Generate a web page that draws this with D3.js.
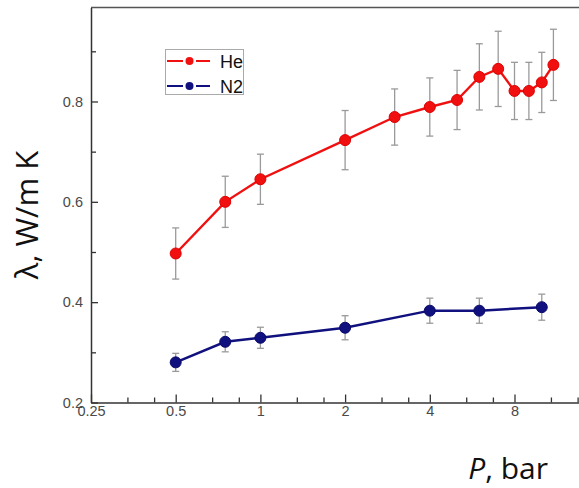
<!DOCTYPE html>
<html><head><meta charset="utf-8">
<script src="https://cdn.jsdelivr.net/npm/d3@7"></script>
<style>body{margin:0;background:#fff}svg{display:block}</style>
</head><body>
<svg id="c" width="579" height="488"></svg>
<script>
// Data
const hePressure = [0.5, 0.75, 1, 2, 3, 4, 5, 6, 7, 8, 9, 10, 11];
const heValue    = [0.497, 0.600, 0.645, 0.723, 0.769, 0.789, 0.803, 0.849, 0.865, 0.821, 0.821, 0.838, 0.873];
const heError    = [0.051, 0.051, 0.050, 0.059, 0.056, 0.058, 0.059, 0.066, 0.075, 0.057, 0.057, 0.060, 0.071];
const n2Pressure = [0.5, 0.75, 1, 2, 4, 6, 10];
const n2Value    = [0.280, 0.321, 0.329, 0.349, 0.383, 0.383, 0.390];
const n2Error    = [0.018, 0.020, 0.021, 0.024, 0.025, 0.025, 0.026];
const xTickValues = [0.25, 0.5, 1, 2, 4, 8];
const xTickLabels = ["0.25", "0.5", "1", "2", "4", "8"];
const yTickValues = [0.2, 0.4, 0.6, 0.8];
const yTickLabels = ["0.2", "0.4", "0.6", "0.8"];
const yMinorValues = [0.3, 0.5, 0.7, 0.9];
const seriesNames = ["He", "N2"];

const svg = d3.select("#c");
const mLeft = 91, mTop = 7.5, mBottom = 402.5;
const octave = 84.7;
const mRight = mLeft + octave * Math.log2(13.5 / 0.25);
const x = d3.scaleLog().base(2).domain([0.25, 13.5]).range([mLeft, mRight]);
const y = d3.scaleLinear().domain([0.2, 0.2 + (mBottom - mTop) / 501.7]).range([mBottom, mTop]);

// minor x ticks (two per octave)
const xMinor = [];
xTickValues.forEach(v => { xMinor.push(v * Math.pow(2, 0.43)); xMinor.push(v * Math.pow(2, 0.745)); });

const axisColor = "#333";
const labelFont = "Liberation Sans, Arial, sans-serif";
svg.append("line").attr("x1", mLeft).attr("x2", 579).attr("y1", mTop).attr("y2", mTop)
  .attr("stroke", "#555").attr("stroke-width", 1.5);

const xAxis = d3.axisBottom(x).tickValues(xTickValues).tickFormat((d, i) => xTickLabels[i])
  .tickSizeInner(-8).tickSizeOuter(0).tickPadding(3);
const gx = svg.append("g").attr("transform", `translate(0,${mBottom})`).call(xAxis);
gx.select(".domain").attr("stroke", axisColor).attr("stroke-width", 1.5);
gx.selectAll(".tick line").attr("stroke", axisColor).attr("stroke-width", 1.3);
gx.selectAll(".tick text").attr("font-family", labelFont)
  .attr("font-size", 14.5).attr("fill", "#4a4a4a");
const xAxisMinor = d3.axisBottom(x).tickValues(xMinor).tickFormat("").tickSizeInner(-5).tickSizeOuter(0);
const gxm = svg.append("g").attr("transform", `translate(0,${mBottom})`).call(xAxisMinor);
gxm.select(".domain").remove();
gxm.selectAll(".tick line").attr("stroke", axisColor).attr("stroke-width", 1.3);

const yAxis = d3.axisLeft(y).tickValues(yTickValues).tickFormat((d, i) => yTickLabels[i])
  .tickSizeInner(-7).tickSizeOuter(0).tickPadding(8);
const gy = svg.append("g").attr("transform", `translate(${mLeft},0)`).call(yAxis);
gy.select(".domain").attr("stroke", axisColor).attr("stroke-width", 1.5);
gy.selectAll(".tick line").attr("stroke", axisColor).attr("stroke-width", 1.3);
gy.selectAll(".tick text").attr("font-family", labelFont)
  .attr("font-size", 14.5).attr("fill", "#4a4a4a");
const yAxisMinor = d3.axisLeft(y).tickValues(yMinorValues).tickFormat("").tickSizeInner(-5).tickSizeOuter(0);
const gym = svg.append("g").attr("transform", `translate(${mLeft},0)`).call(yAxisMinor);
gym.select(".domain").remove();
gym.selectAll(".tick line").attr("stroke", axisColor).attr("stroke-width", 1.3);

function drawSeries(px, vals, errs, color, edge) {
  const pts = px.map((p, i) => ({p, v: vals[i], e: errs[i]}));
  const g = svg.append("g");
  const eb = g.selectAll(".eb").data(pts).enter().append("g").attr("stroke", "#9a9a9a").attr("stroke-width", 1.3);
  eb.append("line").attr("x1", d => x(d.p)).attr("x2", d => x(d.p))
    .attr("y1", d => y(d.v + d.e)).attr("y2", d => y(d.v - d.e));
  eb.append("line").attr("x1", d => x(d.p) - 3.5).attr("x2", d => x(d.p) + 3.5)
    .attr("y1", d => y(d.v + d.e)).attr("y2", d => y(d.v + d.e));
  eb.append("line").attr("x1", d => x(d.p) - 3.5).attr("x2", d => x(d.p) + 3.5)
    .attr("y1", d => y(d.v - d.e)).attr("y2", d => y(d.v - d.e));
  const line = d3.line().x(d => x(d.p)).y(d => y(d.v));
  g.append("path").datum(pts).attr("d", line).attr("fill", "none")
    .attr("stroke", color).attr("stroke-width", 2.4);
  g.selectAll("circle").data(pts).enter().append("circle")
    .attr("cx", d => x(d.p)).attr("cy", d => y(d.v)).attr("r", 5.5)
    .attr("fill", color).attr("stroke", edge).attr("stroke-width", 1);
}
drawSeries(hePressure, heValue, heError, "#f01010", "#e00000");
drawSeries(n2Pressure, n2Value, n2Error, "#10107e", "#0a0a6a");

// legend
const lg = svg.append("g");
lg.append("rect").attr("x", 165.5).attr("y", 49.5).attr("width", 78).attr("height", 45)
  .attr("fill", "#fff").attr("stroke", "#aaa").attr("stroke-width", 1);
const legColors = ["#f01010", "#10107e"];
seriesNames.forEach((name, i) => {
  const yy = 61 + i * 25;
  lg.append("line").attr("x1", 167).attr("x2", 183).attr("y1", yy).attr("y2", yy)
    .attr("stroke", legColors[i]).attr("stroke-width", 2);
  lg.append("line").attr("x1", 196).attr("x2", 210).attr("y1", yy).attr("y2", yy)
    .attr("stroke", legColors[i]).attr("stroke-width", 2);
  lg.append("circle").attr("cx", 189.5).attr("cy", yy).attr("r", 4).attr("fill", legColors[i]);
  lg.append("text").attr("x", 220).attr("y", yy + 6.5).text(name)
    .attr("font-family", labelFont).attr("font-size", 18).attr("fill", "#111");
});

// axis titles
svg.append("text").attr("transform", "translate(38,215) rotate(-90)").attr("text-anchor", "middle")
  .attr("font-family", "Open Sans, Liberation Sans, sans-serif").attr("font-size", 31).attr("fill", "#111")
  .text("λ, W/m K");
const xt = svg.append("text").attr("x", 548).attr("y", 479).attr("text-anchor", "end")
  .attr("font-family", "Open Sans, Liberation Sans, sans-serif").attr("font-size", 30).attr("fill", "#111");
xt.append("tspan").attr("font-style", "italic").text("P");
xt.append("tspan").text(", bar");
</script>
</body></html>
